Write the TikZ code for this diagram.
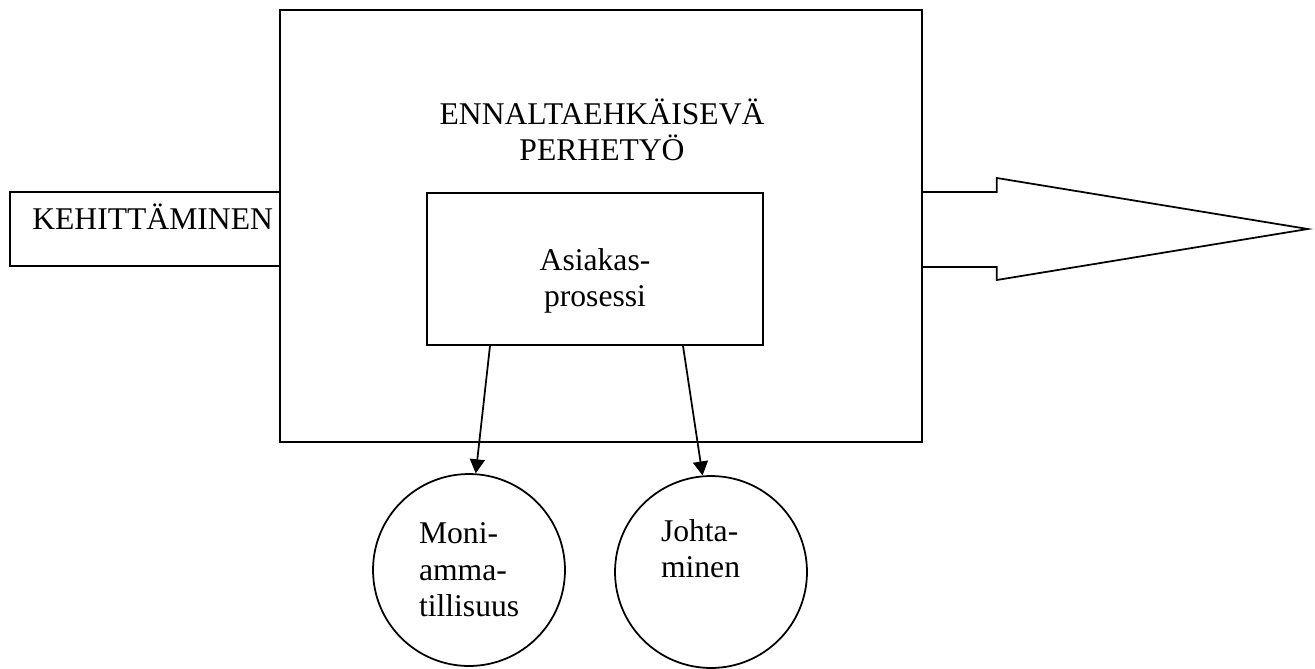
\documentclass[tikz,border=0pt]{standalone}
\usepackage{fontspec}
\setmainfont{Liberation Serif}
\usetikzlibrary{arrows.meta,calc}
\tikzstyle{box}=[shape=rectangle,
                draw=black,
                line width=1pt,
                inner sep=0pt,
                align=center]
\tikzstyle{circ}=[shape=circle,
                draw=black,
                line width=1pt,
                minimum size=3.84cm,
                inner sep=0pt,
                text width=2cm,
                align=left]

\begin{document}
\begin{tikzpicture}[x=0.02cm,y=-0.02cm,>={Triangle[length=8pt,width=8.5pt]},line width=1pt,
                    font=\fontsize{18}{20.7}\selectfont]
\useasboundingbox (0,0) rectangle (1315,669);

% frame and title
\node[box,minimum width=12.84cm,minimum height=8.64cm] (frame) at (601,226) {};
\node[inner sep=0pt,align=center] (title) at (602,130) {ENNALTAEHKÄISEVÄ\\PERHETYÖ};

% input
\node[box,minimum width=5.4cm,minimum height=1.48cm,text width=5.12cm,align=right,
      text height=0.74cm,text depth=0.74cm] (dev) at (145,229) {KEHITTÄMINEN};

% process
\node[box,minimum width=6.72cm,minimum height=3.04cm] (proc) at (595,269)
     {\rule{0pt}{26pt}Asiakas-\\prosessi};

% output arrow
\draw ($(frame.east)+(0,-34)$) -- ++(74,0) -- ++(0,-14) -- ++(311,51)
      -- ++(-311,51) -- ++(0,-13) -- ++(-74,0);

% circles
\node[circ] (multi) at (469,570) {Moni-\\amma-\\tillisuus};
\node[circ] (lead)  at (711,572) {Johta-\\minen\\\strut};

% paths
\path[->] ($(proc.south)+(-105,0)$) edge (multi.86)
          ($(proc.south)+(88,0)$)   edge (lead.95);
\end{tikzpicture}
\end{document}
